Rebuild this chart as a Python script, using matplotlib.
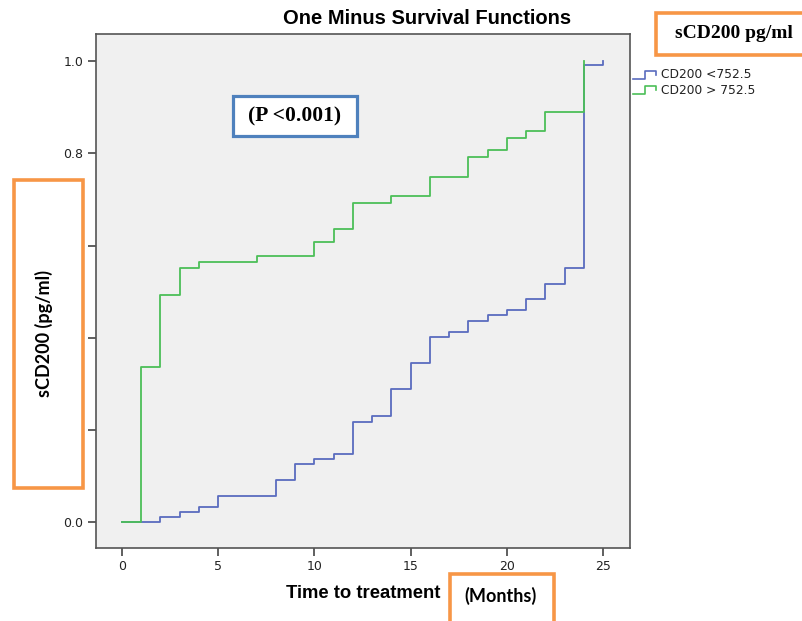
import matplotlib
matplotlib.use("Agg")
import matplotlib.pyplot as plt
from matplotlib.patches import Rectangle
from matplotlib.lines import Line2D

# Data (one minus survival, step functions)
low_times = [0, 2, 3, 4, 5, 8, 9, 10, 11, 12, 13, 14, 15, 16, 17, 18, 19, 20, 21, 22, 23, 24, 25]
low_values = [0.0, 0.011, 0.022, 0.033, 0.056, 0.091, 0.126, 0.137, 0.148, 0.217, 0.230, 0.288,
              0.345, 0.401, 0.412, 0.436, 0.449, 0.460, 0.484, 0.516, 0.551, 0.991, 1.0]
high_times = [0, 1, 2, 3, 4, 7, 10, 11, 12, 14, 16, 18, 19, 20, 21, 22, 24]
high_values = [0.0, 0.336, 0.492, 0.551, 0.564, 0.577, 0.607, 0.636, 0.692, 0.707, 0.748,
               0.792, 0.807, 0.833, 0.848, 0.889, 1.0]
series_labels = ["CD200 <752.5", "CD200 > 752.5"]
x_ticks = [0, 5, 10, 15, 20, 25]
y_ticks = [0.0, 0.2, 0.4, 0.6, 0.8, 1.0]
y_tick_labels = ["0.0", "", "", "", "0.8", "1.0"]

BLUE = "#5a6cbf"
GREEN = "#4cbf58"
ORANGE = "#f79646"
BOXBLUE = "#4f81bd"

W, H = 803, 621
fig = plt.figure(figsize=(W / 100, H / 100), dpi=100)
fig.patch.set_facecolor("white")


def px(x, y):
    """pixel coords (from top-left) -> figure fraction"""
    return x / W, 1 - y / H


# axes frame
ax = fig.add_axes([96 / W, 1 - 548 / H, 534 / W, 514 / H])
ax.set_facecolor("#f0f0f0")
for s in ax.spines.values():
    s.set_color("#555555")
    s.set_linewidth(1.2)

ax.step(low_times, low_values, where="post", color=BLUE, lw=1.3, zorder=3)
ax.step(high_times, high_values, where="post", color=GREEN, lw=1.3, zorder=4)

ax.set_xlim(-1.35, 26.4)
ax.set_ylim(-0.056, 1.059)
ax.set_xticks(x_ticks)
ax.set_yticks(y_ticks)
ax.set_yticklabels(y_tick_labels)
ax.tick_params(axis="both", direction="out", length=6, width=1.2, color="#444444",
               labelsize=9, labelcolor="#222222", pad=3)
for lab in ax.get_xticklabels() + ax.get_yticklabels():
    lab.set_family("DejaVu Sans")

fig.text(*px(427, 18), "One Minus Survival Functions", ha="center", va="center",
         fontsize=14.5, fontweight="bold", family="Liberation Sans")
fig.text(*px(363, 593), "Time to treatment", ha="center", va="center",
         fontsize=13.3, fontweight="bold", family="Liberation Sans")

# legend glyphs drawn as small steps
for i, (lab, col) in enumerate(zip(series_labels, [BLUE, GREEN])):
    dy = i * 15
    xs = [633, 645, 645, 656, 656]
    ys = [79 + dy, 79 + dy, 71 + dy, 71 + dy, 75 + dy]
    fx = [x / W for x in xs]
    fy = [1 - y / H for y in ys]
    fig.add_artist(Line2D(fx, fy, color=col, lw=1.2, transform=fig.transFigure))
    fig.text(*px(661, 75 + dy), lab, ha="left", va="center", fontsize=8.8,
             family="DejaVu Sans", color="#222222")


def box(x0, y0, x1, y1, edge, lw):
    fig.add_artist(Rectangle((x0 / W, 1 - y1 / H), (x1 - x0) / W, (y1 - y0) / H,
                             transform=fig.transFigure, facecolor="white",
                             edgecolor=edge, lw=lw, zorder=10, clip_on=False))


# annotation boxes
box(233, 96, 357, 136, BOXBLUE, 2.3)
fig.text(*px(295, 116), "(P <0.001)", ha="center", va="center", fontsize=15.5,
         fontweight="bold", family="Liberation Serif", zorder=11)

box(656, 13, 806, 55, ORANGE, 2.6)
fig.text(*px(734, 34), "sCD200 pg/ml", ha="center", va="center", fontsize=14,
         fontweight="bold", family="Liberation Serif", zorder=11)

box(14, 180, 83, 488, ORANGE, 2.6)
fig.text(*px(44, 334), "sCD200 (pg/ml)", ha="center", va="center", rotation=90,
         fontsize=13, fontweight="bold", family="Lato", zorder=11)

box(450, 574, 554, 625, ORANGE, 2.6)
fig.text(*px(501, 596), "(Months)", ha="center", va="center", fontsize=13,
         fontweight="bold", family="Lato", zorder=11)

fig.savefig("out.png", dpi=100)
